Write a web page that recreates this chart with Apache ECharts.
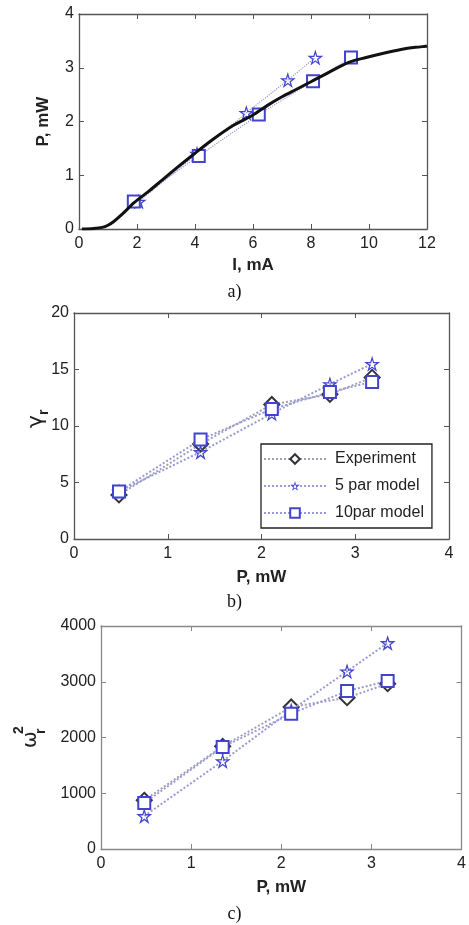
<!DOCTYPE html>
<html>
<head>
<meta charset="utf-8">
<script src="https://cdn.jsdelivr.net/npm/echarts@6/dist/echarts.min.js"></script>
<style>
  html, body { margin: 0; padding: 0; background: #fff; }
  #chart { width: 469px; height: 925px; }
</style>
</head>
<body>
<div id="chart"></div>
<script>
// panel a) measured L-I curve and the two model fits
const curveI = [0.1, 0.5, 0.8, 1.0, 1.2, 1.5, 1.9, 2.4, 2.8, 3.4, 4.0, 4.6, 5.3, 6.0, 6.5, 7.0, 7.5, 8.0, 8.6, 9.3, 9.9, 10.5, 11.1, 11.6, 12.0];
const curveP = [0.00, 0.01, 0.03, 0.07, 0.14, 0.28, 0.49, 0.70, 0.88, 1.15, 1.41, 1.66, 1.92, 2.12, 2.30, 2.46, 2.60, 2.74, 2.91, 3.10, 3.19, 3.27, 3.34, 3.38, 3.40];
const star5I = [2.06, 4.07, 5.77, 7.20, 8.15];
const star5P = [0.51, 1.40, 2.16, 2.77, 3.19];
const sq10I = [1.89, 4.13, 6.20, 8.07, 9.38];
const sq10P = [0.51, 1.36, 2.13, 2.75, 3.19];

// panels b) and c): values against output power
const powerP = [0.48, 1.35, 2.11, 2.73, 3.18];
const gammaExp = [3.9, 8.4, 11.9, 12.8, 14.3];
const gamma5 = [4.2, 7.7, 11.1, 13.7, 15.5];
const gamma10 = [4.2, 8.8, 11.5, 13.0, 13.9];
const omegaExp = [873, 1841, 2547, 2714, 2965];
const omega5 = [592, 1578, 2487, 3187, 3695];
const omega10 = [825, 1830, 2427, 2834, 3013];

const xTicksA = [0, 12, 2];
const yTicksA = [0, 4, 1];
const xTicksBC = [0, 4, 1];
const yTicksB = [0, 20, 5];
const yTicksC = [0, 4000, 1000];

const seriesNames = ['Experiment', '5 par model', '10par model'];

const blue = '#4343cf';
const dotBlue = '#9a9ad6';
const txt = '#222';
// hollow star: outer outline plus inner outline drawn the other way round
const starPath = 'path://M50,2 L60.76,35.19 L95.65,35.17 L67.40,55.65 L78.21,88.83 L50,68.3 L21.79,88.83 L32.60,55.65 L4.35,35.17 L39.24,35.19 Z ' +
  'M50,24.7 L44.33,42.20 L25.94,42.18 L40.83,52.98 L35.13,70.47 L50,59.64 L64.87,70.47 L59.17,52.98 L74.06,42.18 L55.67,42.20 Z';

function zip(a, b) {
  return a.map((v, i) => [v, b[i]]);
}

const grids = [
  { left: 79, top: 14, width: 348, height: 215 },
  { left: 74, top: 313, width: 375, height: 226 },
  { left: 101, top: 626, width: 362, height: 223 }
];
const axisCols = ['#555', '#555', '#888'];

function mainAxis(g, t, pos, name, gap) {
  return {
    gridIndex: g, type: 'value', position: pos,
    min: t[0], max: t[1], interval: t[2],
    name: name, nameLocation: 'middle', nameGap: gap,
    nameTextStyle: { fontFamily: 'Liberation Sans', fontWeight: 'bold', fontSize: 17, color: txt },
    axisLine: { show: true, lineStyle: { color: axisCols[g], width: 1.3 } },
    axisTick: { show: true, inside: true, length: 5, lineStyle: { color: axisCols[g] } },
    axisLabel: {
      show: true, margin: pos === 'bottom' ? 7 : 5,
      fontFamily: 'Liberation Sans', fontSize: 16, color: txt,
      formatter: (v) => String(v)
    },
    splitLine: { show: false }
  };
}
function boxAxis(g, t, pos) {
  return {
    gridIndex: g, type: 'value', position: pos,
    min: t[0], max: t[1], interval: t[2],
    axisLine: { show: true, onZero: false, lineStyle: { color: axisCols[g], width: 1.3 } },
    axisTick: { show: true, inside: true, length: 5, lineStyle: { color: axisCols[g] } },
    axisLabel: { show: false },
    splitLine: { show: false }
  };
}

const xAxis = [
  mainAxis(0, xTicksA, 'bottom', 'I, mA', 28),
  mainAxis(1, xTicksBC, 'bottom', 'P, mW', 30),
  mainAxis(2, xTicksBC, 'bottom', 'P, mW', 30),
  boxAxis(0, xTicksA, 'top'),
  boxAxis(1, xTicksBC, 'top'),
  boxAxis(2, xTicksBC, 'top')
];
const yAxis = [
  mainAxis(0, yTicksA, 'left', 'P, mW', 27),
  mainAxis(1, yTicksB, 'left', '', 0),
  mainAxis(2, yTicksC, 'left', '', 0),
  boxAxis(0, yTicksA, 'right'),
  boxAxis(1, yTicksB, 'right'),
  boxAxis(2, yTicksC, 'right')
];
yAxis[0].nameRotate = 90;

function expSeries(g, ys) {
  return {
    name: seriesNames[0], type: 'line', xAxisIndex: g, yAxisIndex: g,
    data: zip(powerP, ys), symbol: 'emptyDiamond', symbolSize: 15,
    itemStyle: { color: '#333', borderWidth: 1.2 },
    lineStyle: { type: 'dotted', color: '#a0a0b8', width: 2 },
    z: 3
  };
}
function starSeries(g, xs, ys, name) {
  return {
    name: name, type: 'line', xAxisIndex: g, yAxisIndex: g,
    data: zip(xs, ys), symbol: starPath, symbolSize: 16,
    itemStyle: { color: blue },
    lineStyle: { type: 'dotted', color: dotBlue, width: 2 },
    z: 4
  };
}
function squareSeries(g, xs, ys, name) {
  return {
    name: name, type: 'line', xAxisIndex: g, yAxisIndex: g,
    data: zip(xs, ys), symbol: 'emptyRect', symbolSize: 12,
    itemStyle: { color: blue, borderWidth: 1.2 },
    lineStyle: { type: 'dotted', color: dotBlue, width: 2 },
    z: 4
  };
}

const series = [
  {
    type: 'line', xAxisIndex: 0, yAxisIndex: 0, data: zip(curveI, curveP),
    symbol: 'none', smooth: 0.3, lineStyle: { color: '#111', width: 3 }, z: 5
  },
  Object.assign(starSeries(0, star5I, star5P, 'a5'), { lineStyle: { type: 'dotted', color: dotBlue, width: 1.2 } }),
  Object.assign(squareSeries(0, sq10I, sq10P, 'a10'), { lineStyle: { type: 'dotted', color: dotBlue, width: 1.2 } }),
  expSeries(1, gammaExp),
  starSeries(1, powerP, gamma5, seriesNames[1]),
  squareSeries(1, powerP, gamma10, seriesNames[2]),
  expSeries(2, omegaExp),
  starSeries(2, powerP, omega5, seriesNames[1]),
  squareSeries(2, powerP, omega10, seriesNames[2])
];

const capStyle = { fontFamily: 'Liberation Serif', fontSize: 18, fill: '#111' };

const option = {
  animation: false,
  backgroundColor: '#fff',
  grid: grids,
  xAxis: xAxis,
  yAxis: yAxis,
  legend: {
    data: seriesNames,
    orient: 'vertical',
    left: 261, top: 444,
    itemWidth: 62, itemHeight: 12, itemGap: 11,
    padding: [7, 8, 7, 2],
    backgroundColor: '#fff',
    borderColor: '#222', borderWidth: 1.3, borderRadius: 0,
    textStyle: { fontFamily: 'Liberation Sans', fontSize: 16, color: txt, padding: [0, 0, 0, 4] }
  },
  series: series,
  graphic: [
    { type: 'text', left: 'center', top: 283, style: Object.assign({ text: 'a)' }, capStyle) },
    { type: 'text', left: 'center', top: 593, style: Object.assign({ text: 'b)' }, capStyle) },
    { type: 'text', left: 'center', top: 905, style: Object.assign({ text: 'c)' }, capStyle) },
    {
      type: 'group', x: 36, y: 428, rotation: Math.PI / 2,
      children: [
        { type: 'text', x: 0, y: 0, style: { text: 'γ', fontFamily: 'DejaVu Sans', fontSize: 22, fill: txt, align: 'left', verticalAlign: 'middle' } },
        { type: 'text', x: 13, y: 8, style: { text: 'r', fontFamily: 'Liberation Sans', fontWeight: 'bold', fontSize: 14, fill: txt, align: 'left', verticalAlign: 'middle' } }
      ]
    },
    {
      type: 'group', x: 31, y: 748, rotation: Math.PI / 2,
      children: [
        { type: 'text', x: 0, y: 0, style: { text: 'ω', fontFamily: 'DejaVu Sans', fontSize: 20, fill: txt, align: 'left', verticalAlign: 'middle' } },
        { type: 'text', x: 14, y: -12, style: { text: '2', fontFamily: 'Liberation Sans', fontWeight: 'bold', fontSize: 14, fill: txt, align: 'left', verticalAlign: 'middle' } },
        { type: 'text', x: 14, y: 10, style: { text: 'r', fontFamily: 'Liberation Sans', fontWeight: 'bold', fontSize: 14, fill: txt, align: 'left', verticalAlign: 'middle' } }
      ]
    }
  ]
};

const myChart = echarts.init(document.getElementById('chart'));
myChart.setOption(option);
</script>
</body>
</html>
